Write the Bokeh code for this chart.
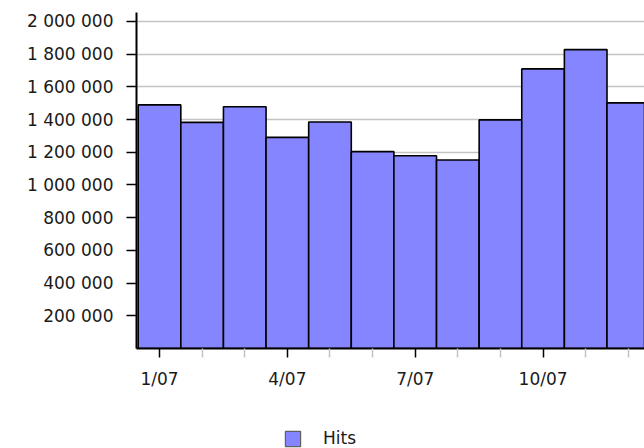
from bokeh.plotting import figure
from bokeh.layouts import column
from bokeh.models import FixedTicker, ColumnDataSource, Range1d, Legend, LegendItem
from bokeh.embed import file_html
from bokeh.resources import INLINE

months = [1, 2, 3, 4, 5, 6, 7, 8, 9, 10, 11, 12]
hits = [1490000, 1383000, 1479000, 1291000, 1385000, 1204000,
        1179000, 1153000, 1398000, 1710000, 1828000, 1502000]
x_major = [1, 4, 7, 10]
x_labels = ["1/07", "4/07", "7/07", "10/07"]
x_minor = [2, 3, 5, 6, 8, 9, 11, 12]
y_ticks = [200000, 400000, 600000, 800000, 1000000, 1200000, 1400000,
           1600000, 1800000, 2000000]
y_labels = ["200 000", "400 000", "600 000", "800 000", "1 000 000",
            "1 200 000", "1 400 000", "1 600 000", "1 800 000", "2 000 000"]
series_name = "Hits"

FONT = "DejaVu Sans"
BAR = "#8585ff"

p = figure(width=644, height=410, output_backend="svg", toolbar_location=None,
           x_range=Range1d(0.46, 12.38), y_range=Range1d(0, 2055000),
           min_border_left=136, min_border_right=0, min_border_top=12,
           min_border_bottom=62)
p.outline_line_color = None
p.background_fill_color = "white"
p.border_fill_color = "white"

src = ColumnDataSource(dict(x=months, top=hits))
p.vbar(x="x", top="top", width=1.0, bottom=0, source=src,
       fill_color=BAR, line_color="black", line_width=1.6)

xa = p.xaxis[0]
xa.ticker = FixedTicker(ticks=x_major, minor_ticks=x_minor)
xa.major_label_overrides = {m: l for m, l in zip(x_major, x_labels)}
xa.axis_line_color = "black"
xa.axis_line_width = 2
xa.major_tick_line_color = "black"
xa.major_tick_line_width = 1.5
xa.major_tick_out = 9
xa.major_tick_in = 0
xa.minor_tick_line_color = "#c4c4c4"
xa.minor_tick_line_width = 1.5
xa.minor_tick_out = 9
xa.minor_tick_in = 0
xa.major_label_standoff = 11
xa.major_label_text_font = FONT
xa.major_label_text_font_size = "17px"
xa.major_label_text_color = "#1a1a1a"

ya = p.yaxis[0]
ya.ticker = FixedTicker(ticks=y_ticks, minor_ticks=[])
ya.major_label_overrides = {t: l for t, l in zip(y_ticks, y_labels)}
ya.axis_line_color = "black"
ya.axis_line_width = 2
ya.major_tick_line_color = "black"
ya.major_tick_line_width = 1.5
ya.major_tick_out = 10
ya.major_tick_in = 0
ya.minor_tick_line_color = None
ya.major_label_standoff = 13
ya.major_label_text_font = FONT
ya.major_label_text_font_size = "17px"
ya.major_label_text_color = "#1a1a1a"

p.xgrid.grid_line_color = None
p.ygrid.ticker = FixedTicker(ticks=y_ticks)
p.ygrid.grid_line_color = "#c4c4c4"
p.ygrid.grid_line_width = 1.5

# legend strip below the chart
lg = figure(width=644, height=38, output_backend="svg", toolbar_location=None,
            x_range=Range1d(0, 1), y_range=Range1d(0, 1),
            min_border=0, x_axis_type=None, y_axis_type=None)
lg.outline_line_color = None
lg.xgrid.grid_line_color = None
lg.ygrid.grid_line_color = None
swatch = lg.vbar(x="x", top="top", width=1.0, source=src, fill_color=BAR,
                 line_color="#606060", line_width=1.2, visible=False)
legend = Legend(items=[LegendItem(label=series_name, renderers=[swatch])],
                location=(147, 0), orientation="horizontal",
                border_line_color=None, background_fill_alpha=0,
                inactive_fill_alpha=0,
                padding=1, margin=0, spacing=0,
                glyph_width=19, glyph_height=19, label_height=19,
                label_standoff=21, label_text_font=FONT,
                label_text_font_size="17px", label_text_color="#1a1a1a")
lg.add_layout(legend, "center")

layout = column(p, lg, spacing=0)
open("out.html", "w").write(file_html(layout, INLINE))
